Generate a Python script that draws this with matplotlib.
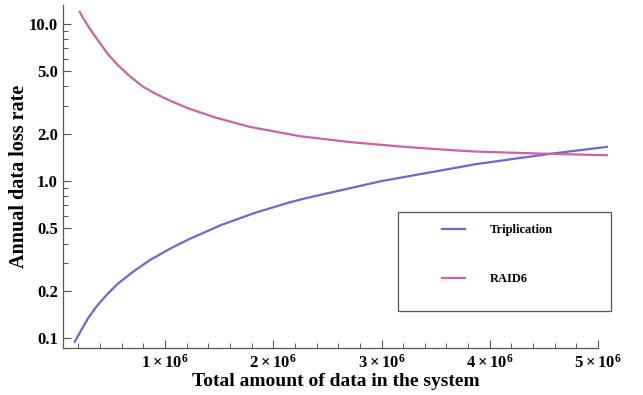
import numpy as np
import matplotlib.pyplot as plt
from matplotlib.patches import Rectangle
from matplotlib.ticker import FixedLocator, NullFormatter

# ─── Data (x in units of 1e6) ─────────────────────────────────────────────────
trip_x = [0.166, 0.227, 0.289, 0.366, 0.458, 0.566, 0.705, 0.859, 1.058,
          1.215, 1.523, 1.831, 2.139, 2.293, 3.000, 3.878, 4.555, 5.088]
trip_y = [0.095, 0.113, 0.134, 0.159, 0.188, 0.223, 0.265, 0.314, 0.375,
          0.425, 0.527, 0.628, 0.728, 0.776, 1.000, 1.283, 1.490, 1.652]

raid_x = [0.212, 0.243, 0.289, 0.335, 0.381, 0.474, 0.566, 0.674, 0.797,
          0.920, 1.058, 1.215, 1.462, 1.785, 2.246, 2.708, 3.169, 3.600,
          3.878, 4.555, 5.088]
raid_y = [11.9, 10.9, 9.70, 8.70, 7.85, 6.40, 5.45, 4.65, 3.98,
          3.57, 3.22, 2.90, 2.54, 2.21, 1.93, 1.77, 1.66, 1.58,
          1.54, 1.49, 1.46]

x_ticks = [1, 2, 3, 4, 5]
x_labels = [r"$\mathbf{%d\times10^{6}}$" % v for v in x_ticks]
y_ticks = [0.1, 0.2, 0.5, 1.0, 2.0, 5.0, 10.0]
y_labels = ["0.1", "0.2", "0.5", "1.0", "2.0", "5.0", "10.0"]

TRIP_COLOR = "#7166cc"
RAID_COLOR = "#cc62a4"
AXIS_COLOR = "#555555"

# ─── Style ────────────────────────────────────────────────────────────────────
plt.rcParams["font.family"] = ["Liberation Serif", "DejaVu Serif"]
plt.rcParams["font.weight"] = "bold"
plt.rcParams["mathtext.fontset"] = "custom"
plt.rcParams["mathtext.rm"] = "Liberation Serif:bold"
plt.rcParams["mathtext.bf"] = "Liberation Serif:bold"
plt.rcParams["mathtext.it"] = "Liberation Serif:bold"

fig = plt.figure(figsize=(6.43, 3.95), dpi=100)
ax = fig.add_axes([0.0985, 0.119, 0.8467, 0.868])

ax.plot(np.array(trip_x) * 1e6, trip_y, color=TRIP_COLOR, lw=1.6,
        label="Triplication")
ax.plot(np.array(raid_x) * 1e6, raid_y, color=RAID_COLOR, lw=1.6,
        label="RAID6")

ax.set_yscale("log")
ax.set_xlim(0.061e6, 5.09e6)
ax.set_ylim(0.0868, 13.15)

for side in ["top", "right"]:
    ax.spines[side].set_visible(False)
for side in ["left", "bottom"]:
    ax.spines[side].set_color(AXIS_COLOR)
    ax.spines[side].set_linewidth(0.9)
ax.spines["bottom"].set_bounds(0.061e6, 5.0e6)

# x ticks
ax.xaxis.set_major_locator(FixedLocator([v * 1e6 for v in x_ticks]))
ax.set_xticklabels(x_labels)
ax.xaxis.set_minor_locator(FixedLocator(
    [v * 1e6 for v in np.arange(0.2, 5.0, 0.2) if abs(v - round(v)) > 1e-6]))

# y ticks
ax.yaxis.set_major_locator(FixedLocator(y_ticks))
ax.set_yticklabels(y_labels)
minor_y = [m * d for d in [0.1, 1.0] for m in [3, 4, 6, 7, 8, 9]
           if 0.0868 < m * d < 13.15 and m * d not in y_ticks]
ax.yaxis.set_minor_locator(FixedLocator(minor_y))
ax.yaxis.set_minor_formatter(NullFormatter())

ax.tick_params(which="major", direction="in", length=6, width=0.8,
               color=AXIS_COLOR, labelsize=12, pad=4)
ax.tick_params(which="minor", direction="in", length=3.5, width=0.7,
               color=AXIS_COLOR)

ax.set_xlabel("Total amount of data in the system", fontsize=14,
              fontweight="bold", labelpad=1)
ax.set_ylabel("Annual data loss rate", fontsize=14.5, fontweight="bold",
              labelpad=0)

# legend box drawn separately so its size matches the reference
ax.add_patch(Rectangle((0.615, 0.108), 0.391, 0.289, transform=ax.transAxes,
                       fill=False, edgecolor=AXIS_COLOR, lw=0.9,
                       clip_on=False, zorder=5))
leg = ax.legend(loc="upper left", bbox_to_anchor=(0.695, 0.362),
                frameon=False, fontsize=9, handlelength=1.85,
                handletextpad=2.0, labelspacing=3.0, borderpad=0,
                borderaxespad=0)
for t in leg.get_texts():
    t.set_fontweight("bold")

plt.savefig("out.png", dpi=100)
